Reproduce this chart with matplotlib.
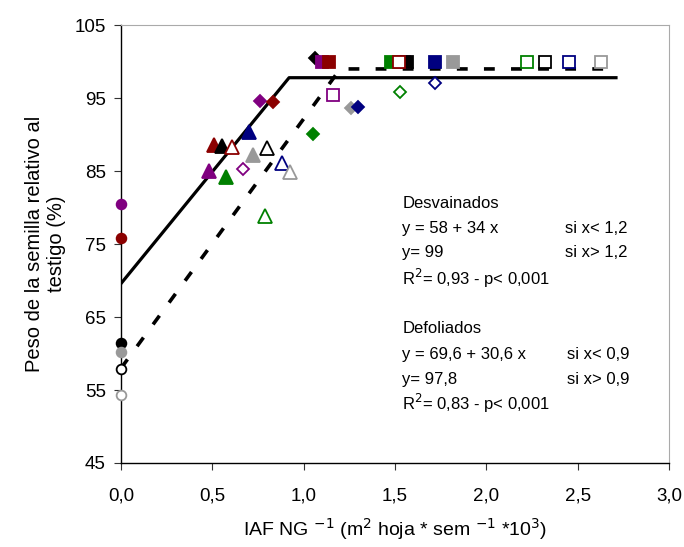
import matplotlib.pyplot as plt
import numpy as np

plt.rcParams['font.family'] = ['Liberation Sans', 'DejaVu Sans']

# colours used for the series
PURPLE = '#800080'
RED = '#8b0000'
BLACK = '#000000'
NAVY = '#000080'
GRAY = '#999999'
GREEN = '#008000'

# points: x, y, colour, filled
circle_x = [0.0, 0.0, 0.0, 0.0, 0.0, 0.0]
circle_y = [80.5, 75.8, 61.4, 60.2, 57.9, 54.3]
circle_c = [PURPLE, RED, BLACK, GRAY, BLACK, GRAY]
circle_f = [True, True, True, True, False, False]

tri_x = [0.48, 0.51, 0.55, 0.575, 0.61, 0.70, 0.72, 0.79, 0.80, 0.88, 0.925]
tri_y = [85.0, 88.6, 88.4, 84.2, 88.3, 90.3, 87.2, 78.8, 88.2, 86.1, 84.9]
tri_c = [PURPLE, RED, BLACK, GREEN, RED, NAVY, GRAY, GREEN, BLACK, NAVY, GRAY]
tri_f = [True, True, True, True, False, True, True, False, False, False, False]

dia_x = [0.67, 0.76, 0.83, 1.05, 1.06, 1.26, 1.30, 1.53, 1.72]
dia_y = [85.3, 94.6, 94.5, 90.1, 100.5, 93.6, 93.8, 95.8, 97.1]
dia_c = [PURPLE, PURPLE, RED, GREEN, BLACK, GRAY, NAVY, GREEN, NAVY]
dia_f = [False, True, True, True, True, True, True, False, False]

sq_x = [1.10, 1.14, 1.16, 1.48, 1.55, 1.565, 1.52, 1.72, 1.82, 2.22, 2.32, 2.45, 2.63]
sq_y = [100.0, 100.0, 95.4, 100.0, 100.0, 100.0, 100.0, 100.0, 100.0, 100.0, 100.0, 100.0, 100.0]
sq_c = [PURPLE, RED, PURPLE, GREEN, PURPLE, BLACK, RED, NAVY, GRAY, GREEN, BLACK, NAVY, GRAY]
sq_f = [True, True, False, True, True, True, False, True, True, False, False, False, False]

# fitted lines
solid_x = [0.0, 0.92, 2.71]
solid_y = [69.6, 97.8, 97.8]
dash_x = [0.0, 1.2, 2.68]
dash_y = [58.0, 99.0, 99.0]

xticks = [0.0, 0.5, 1.0, 1.5, 2.0, 2.5, 3.0]
xticklabels = ['0,0', '0,5', '1,0', '1,5', '2,0', '2,5', '3,0']
yticks = [45, 55, 65, 75, 85, 95, 105]

fig = plt.figure(figsize=(6.84, 5.47), dpi=100)
ax = fig.add_axes([0.177, 0.1536, 0.801, 0.8004])

ax.plot(solid_x, solid_y, color='black', lw=2.3, zorder=2)
ax.plot(dash_x, dash_y, color='black', lw=2.6, dashes=(3, 4.5), zorder=2)


def draw(xs, ys, cs, fs, marker, size, mew):
    for x, y, c, f in zip(xs, ys, cs, fs):
        ax.plot(x, y, marker=marker, ms=size, mec=c, mew=mew,
                mfc=c if f else 'white', ls='none', zorder=3, clip_on=False)


draw(circle_x, circle_y, circle_c, circle_f, 'o', 7, 1.3)
draw(tri_x, tri_y, tri_c, tri_f, '^', 9.5, 1.3)
draw(dia_x, dia_y, dia_c, dia_f, 'D', 6.5, 1.3)
draw(sq_x, sq_y, sq_c, sq_f, 's', 8, 1.3)

ax.set_xlim(0, 3.0)
ax.set_ylim(45, 105)
ax.set_xticks(xticks)
ax.set_xticklabels(xticklabels)
ax.set_yticks(yticks)
ax.tick_params(labelsize=13.5, length=5, color='#333333', pad=6)
ax.tick_params(axis='x', pad=13)

ax.spines['top'].set_color('#aaaaaa')
ax.spines['right'].set_color('#aaaaaa')
for s in ['left', 'bottom']:
    ax.spines[s].set_color('black')
    ax.spines[s].set_linewidth(1.0)

ax.set_xlabel('IAF NG $^{-1}$ (m$^{2}$ hoja * sem $^{-1}$ *10$^{3}$)', fontsize=14, labelpad=8)
ax.set_ylabel('Peso de la semilla relativo al\ntestigo (%)', fontsize=14.5, labelpad=6)

fs = 12
tx = 1.54
ax.text(tx, 80.5, 'Desvainados', fontsize=fs, va='center')
ax.text(tx, 77.1, 'y = 58 + 34 x', fontsize=fs, va='center')
ax.text(2.43, 77.1, 'si x< 1,2', fontsize=fs, va='center')
ax.text(tx, 73.8, 'y= 99', fontsize=fs, va='center')
ax.text(2.43, 73.8, 'si x> 1,2', fontsize=fs, va='center')
ax.text(tx, 70.3, 'R$^{2}$= 0,93 - p< 0,001', fontsize=fs, va='center')
ax.text(tx, 63.4, 'Defoliados', fontsize=fs, va='center')
ax.text(tx, 59.9, 'y = 69,6 + 30,6 x', fontsize=fs, va='center')
ax.text(2.44, 59.9, 'si x< 0,9', fontsize=fs, va='center')
ax.text(tx, 56.5, 'y= 97,8', fontsize=fs, va='center')
ax.text(2.44, 56.5, 'si x> 0,9', fontsize=fs, va='center')
ax.text(tx, 53.1, 'R$^{2}$= 0,83 - p< 0,001', fontsize=fs, va='center')

fig.savefig('out.png', dpi=100)
